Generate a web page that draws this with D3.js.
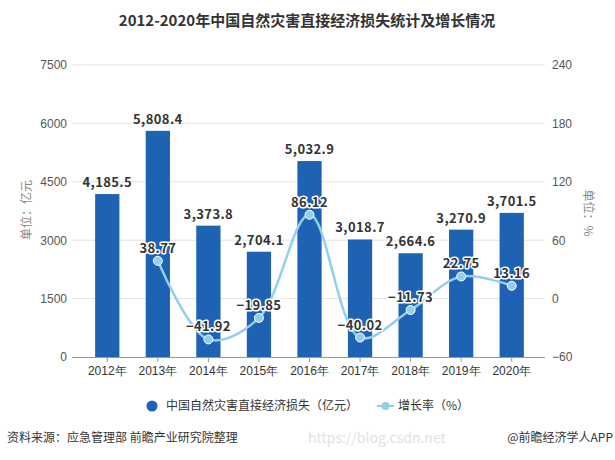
<!DOCTYPE html>
<html>
  <head>
    <meta charset="utf-8">
    <title>2012-2020年中国自然灾害直接经济损失统计及增长情况</title>
    <script src="https://d3js.org/d3.v7.min.js"></script>
    <style>
      body { margin: 0; background: #fff; }
      svg { font-family: "Noto Sans CJK SC", "Noto Sans", sans-serif; }
      .grid line { stroke: #e3e3e3; }
      .tick text { fill: #555; font-size: 12px; }
      .barLabel, .lineLabel { font-weight: bold; font-size: 13px; fill: #333; letter-spacing: 0.4px; }
      .lineLabel { stroke: #fff; stroke-width: 3px; paint-order: stroke; stroke-linejoin: round; }
    </style>
  </head>
  <body>
    <svg id="chart" width="615" height="460"></svg>
    <script>
      // data
      var years = ["2012年", "2013年", "2014年", "2015年", "2016年", "2017年", "2018年", "2019年", "2020年"];
      var losses = [4185.5, 5808.4, 3373.8, 2704.1, 5032.9, 3018.7, 2664.6, 3270.9, 3701.5];
      var growth = [null, 38.77, -41.92, -19.85, 86.12, -40.02, -11.73, 22.75, 13.16];
      var leftTicks = [0, 1500, 3000, 4500, 6000, 7500];
      var rightTicks = [-60, 0, 60, 120, 180, 240];

      var svg = d3.select("#chart");
      var plotLeft = 72, plotRight = 545, plotTop = 65, plotBottom = 357;

      var x = d3.scaleBand()
        .domain(years)
        .range([82, 537])
        .paddingInner(0.52)
        .paddingOuter(0.26);
      var yL = d3.scaleLinear().domain([0, 7500]).range([plotBottom, plotTop]);
      var yR = d3.scaleLinear().domain([-60, 240]).range([plotBottom, plotTop]);

      // title
      svg.append("text")
        .attr("x", 307)
        .attr("y", 26)
        .attr("text-anchor", "middle")
        .style("font-size", "15px")
        .style("font-weight", "bold")
        .style("fill", "#333")
        .text("2012-2020年中国自然灾害直接经济损失统计及增长情况");

      // gridlines
      svg.append("g")
        .attr("class", "grid")
        .selectAll("line")
          .data(leftTicks.slice(1))
        .enter().append("line")
          .attr("x1", plotLeft)
          .attr("x2", plotRight)
          .attr("y1", function(d) { return yL(d); })
          .attr("y2", function(d) { return yL(d); });

      // left axis
      var leftAxis = svg.append("g")
        .attr("transform", "translate(" + plotLeft + ",0)")
        .call(d3.axisLeft(yL).tickValues(leftTicks).tickFormat(d3.format("d")).tickSize(0).tickPadding(5));
      leftAxis.select(".domain").remove();

      // right axis
      var rightAxis = svg.append("g")
        .attr("transform", "translate(" + plotRight + ",0)")
        .call(d3.axisRight(yR).tickValues(rightTicks).tickFormat(d3.format("d")).tickSize(0).tickPadding(7));
      rightAxis.select(".domain").remove();

      // bars
      svg.selectAll(".bar")
          .data(losses)
        .enter().append("rect")
          .attr("class", "bar")
          .attr("x", function(d, i) { return x(years[i]); })
          .attr("width", x.bandwidth())
          .attr("y", function(d) { return yL(d); })
          .attr("height", function(d) { return plotBottom - yL(d); })
          .style("fill", "#1e63b3");

      // x axis
      var xAxis = svg.append("g")
        .attr("transform", "translate(0," + plotBottom + ")")
        .call(d3.axisBottom(x).tickSize(5).tickPadding(4));
      xAxis.select(".domain").attr("d", "M" + plotLeft + ",0.5H" + plotRight).style("stroke", "#999");
      xAxis.selectAll(".tick line").style("stroke", "#999");
      xAxis.selectAll(".tick text").style("fill", "#333");

      // bar labels
      svg.selectAll(".barLabel")
          .data(losses)
        .enter().append("text")
          .attr("class", "barLabel")
          .attr("x", function(d, i) { return x(years[i]) + x.bandwidth() / 2; })
          .attr("y", function(d) { return yL(d) - 7; })
          .attr("text-anchor", "middle")
          .text(function(d) { return d3.format(",.1f")(d); });

      // growth line
      var points = growth
        .map(function(d, i) { return { year: years[i], value: d }; })
        .filter(function(d) { return d.value !== null; });
      var line = d3.line()
        .x(function(d) { return x(d.year) + x.bandwidth() / 2; })
        .y(function(d) { return yR(d.value); })
        .curve(d3.curveCatmullRom.alpha(0.5));
      svg.append("path")
        .datum(points)
        .attr("d", line)
        .style("fill", "none")
        .style("stroke", "#92cfec")
        .style("stroke-width", 2.5);
      svg.selectAll(".dot")
          .data(points)
        .enter().append("circle")
          .attr("class", "dot")
          .attr("cx", function(d) { return x(d.year) + x.bandwidth() / 2; })
          .attr("cy", function(d) { return yR(d.value); })
          .attr("r", 4.5)
          .style("fill", "#92cfec")
          .style("stroke", "#fff")
          .style("stroke-width", 1);
      svg.selectAll(".lineLabel")
          .data(points)
        .enter().append("text")
          .attr("class", "lineLabel")
          .attr("x", function(d) { return x(d.year) + x.bandwidth() / 2; })
          .attr("y", function(d) { return yR(d.value) - 8; })
          .attr("text-anchor", "middle")
          .text(function(d) { return d3.format(".2f")(d.value).replace("-", "−"); });

      // axis titles
      svg.append("text")
        .attr("transform", "translate(31,210) rotate(-90)")
        .attr("text-anchor", "middle")
        .style("font-size", "12px")
        .style("fill", "#888")
        .text("单位：亿元");
      svg.append("text")
        .attr("transform", "translate(584,213) rotate(90)")
        .attr("text-anchor", "middle")
        .style("font-size", "12px")
        .style("fill", "#888")
        .text("单位：%");

      // legend
      var legend = svg.append("g").style("font-size", "12px").style("fill", "#333");
      legend.append("circle")
        .attr("cx", 152).attr("cy", 406).attr("r", 5.5)
        .style("fill", "#1e63b3");
      legend.append("text")
        .attr("x", 166).attr("y", 410)
        .text("中国自然灾害直接经济损失（亿元）");
      legend.append("line")
        .attr("x1", 377).attr("x2", 394).attr("y1", 406).attr("y2", 406)
        .style("stroke", "#92cfec").style("stroke-width", 2);
      legend.append("circle")
        .attr("cx", 385.5).attr("cy", 406).attr("r", 4)
        .style("fill", "#92cfec");
      legend.append("text")
        .attr("x", 398).attr("y", 410)
        .text("增长率（%）");

      // source
      svg.append("text")
        .attr("x", 7).attr("y", 442)
        .style("font-size", "12px")
        .style("fill", "#333")
        .text("资料来源：应急管理部 前瞻产业研究院整理");
      svg.append("text")
        .attr("x", 308).attr("y", 443)
        .style("font-size", "14px")
        .style("fill", "#e2e2e2")
        .text("https://blog.csdn.net");
      svg.append("text")
        .attr("x", 613).attr("y", 442)
        .attr("text-anchor", "end")
        .style("font-size", "12px")
        .style("fill", "#333")
        .text("@前瞻经济学人APP");
    </script>
  </body>
</html>
